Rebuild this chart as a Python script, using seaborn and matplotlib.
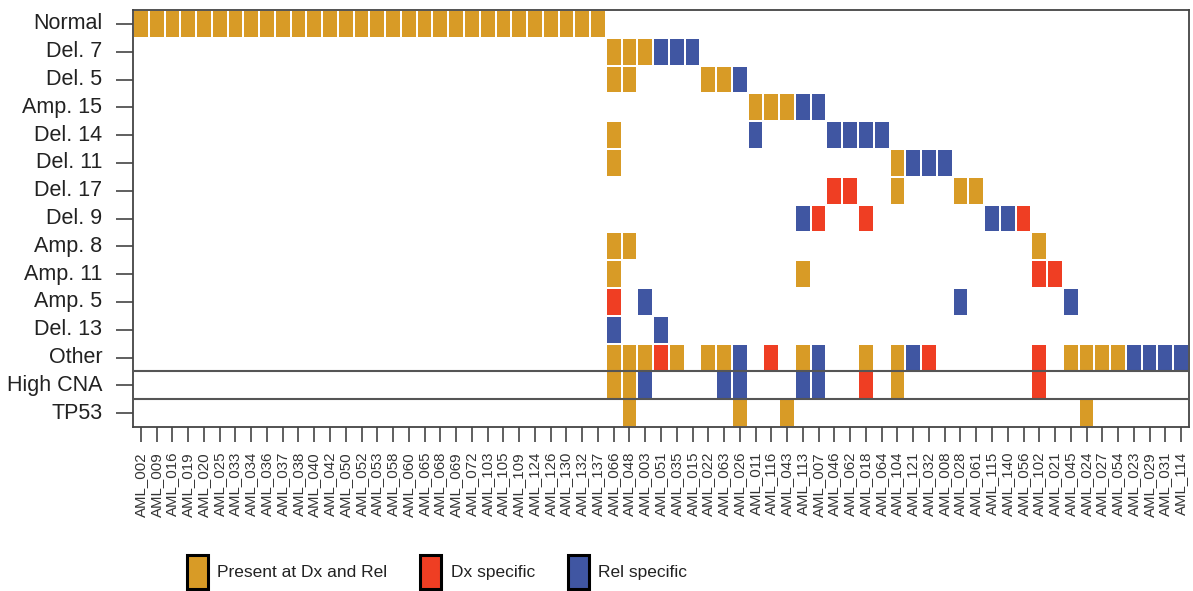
import numpy as np
import pandas as pd
import matplotlib
matplotlib.use("Agg")
import matplotlib.pyplot as plt
from matplotlib.colors import ListedColormap
from matplotlib.patches import Patch
import seaborn as sns

# Samples in plotting order
samples = [
    "AML_002", "AML_009", "AML_016", "AML_019", "AML_020", "AML_025", "AML_033",
    "AML_034", "AML_036", "AML_037", "AML_038", "AML_040", "AML_042", "AML_050",
    "AML_052", "AML_053", "AML_058", "AML_060", "AML_065", "AML_068", "AML_069",
    "AML_072", "AML_103", "AML_105", "AML_109", "AML_124", "AML_126", "AML_130",
    "AML_132", "AML_137", "AML_066", "AML_048", "AML_003", "AML_051", "AML_035",
    "AML_015", "AML_022", "AML_063", "AML_026", "AML_011", "AML_116", "AML_043",
    "AML_113", "AML_007", "AML_046", "AML_062", "AML_018", "AML_064", "AML_104",
    "AML_121", "AML_032", "AML_008", "AML_028", "AML_061", "AML_115", "AML_140",
    "AML_056", "AML_102", "AML_021", "AML_045", "AML_024", "AML_027", "AML_054",
    "AML_023", "AML_029", "AML_031", "AML_114",
]

# Alterations (rows, top to bottom)
alterations = [
    "Normal", "Del. 7", "Del. 5", "Amp. 15", "Del. 14", "Del. 11", "Del. 17",
    "Del. 9", "Amp. 8", "Amp. 11", "Amp. 5", "Del. 13", "Other", "High CNA", "TP53",
]

# Alterations present at both diagnosis and relapse
present_both = {
    "Normal": samples[:30],
    "Del. 7": ["AML_066", "AML_048", "AML_003"],
    "Del. 5": ["AML_066", "AML_048", "AML_022", "AML_063"],
    "Amp. 15": ["AML_011", "AML_116", "AML_043"],
    "Del. 14": ["AML_066"],
    "Del. 11": ["AML_066", "AML_104"],
    "Del. 17": ["AML_104", "AML_028", "AML_061"],
    "Amp. 8": ["AML_066", "AML_048", "AML_102"],
    "Amp. 11": ["AML_066", "AML_113"],
    "Other": ["AML_066", "AML_048", "AML_003", "AML_035", "AML_022", "AML_063",
              "AML_113", "AML_018", "AML_104", "AML_045", "AML_024", "AML_027",
              "AML_054"],
    "High CNA": ["AML_066", "AML_048", "AML_104"],
    "TP53": ["AML_048", "AML_026", "AML_043", "AML_024"],
}

# Alterations seen only at diagnosis
dx_specific = {
    "Del. 17": ["AML_046", "AML_062"],
    "Del. 9": ["AML_007", "AML_018", "AML_056"],
    "Amp. 11": ["AML_102", "AML_021"],
    "Amp. 5": ["AML_066"],
    "Other": ["AML_051", "AML_116", "AML_032", "AML_102"],
    "High CNA": ["AML_018", "AML_102"],
}

# Alterations seen only at relapse
rel_specific = {
    "Del. 7": ["AML_051", "AML_035", "AML_015"],
    "Del. 5": ["AML_026"],
    "Amp. 15": ["AML_113", "AML_007"],
    "Del. 14": ["AML_011", "AML_046", "AML_062", "AML_018", "AML_064"],
    "Del. 11": ["AML_121", "AML_032", "AML_008"],
    "Del. 9": ["AML_113", "AML_115", "AML_140"],
    "Amp. 5": ["AML_003", "AML_028", "AML_045"],
    "Del. 13": ["AML_066", "AML_051"],
    "Other": ["AML_026", "AML_007", "AML_121", "AML_023", "AML_029", "AML_031",
              "AML_114"],
    "High CNA": ["AML_003", "AML_063", "AML_026", "AML_113", "AML_007"],
}

legend_labels = ["Present at Dx and Rel", "Dx specific", "Rel specific"]

GOLD, RED, BLUE = "#D89B26", "#EF3E23", "#4056A2"

# Build the status matrix: 0 = none, 1 = both, 2 = Dx only, 3 = Rel only
status = pd.DataFrame(0, index=alterations, columns=samples)
for code, table in ((1, present_both), (2, dx_specific), (3, rel_specific)):
    for alt, ids in table.items():
        status.loc[alt, ids] = code

sns.set_theme(style="white")
plt.rcParams["font.family"] = ["Liberation Sans", "DejaVu Sans"]
plt.rcParams["text.color"] = "#222222"

fig = plt.figure(figsize=(11.93, 5.91), dpi=100)
ax = fig.add_axes([133 / 1193, 1 - 427 / 591, (1189 - 133) / 1193, (427 - 10) / 591])

cmap = ListedColormap(["white", GOLD, RED, BLUE])
sns.heatmap(status, cmap=cmap, vmin=-0.5, vmax=3.5, cbar=False,
            linewidths=1.4, linecolor="white", ax=ax)

# Separators for the High CNA and TP53 rows
for y in (13, 14):
    ax.axhline(y, color="#555555", lw=1.5, zorder=5)

for side in ("top", "bottom", "left", "right"):
    ax.spines[side].set_visible(True)
    ax.spines[side].set_color("#444444")
    ax.spines[side].set_linewidth(1.3)

ax.set_xlabel("")
ax.set_ylabel("")
ax.set_xticks(np.arange(len(samples)) + 0.5)
ax.set_xticklabels(samples, rotation=90, fontsize=10.8, color="#333333")
ax.set_yticks(np.arange(len(alterations)) + 0.5)
ax.set_yticklabels(alterations, rotation=0, fontsize=15.5, color="#222222")
ax.tick_params(axis="x", bottom=True, length=11, width=1.2, color="#444444", pad=7)
ax.tick_params(axis="y", left=True, length=12, width=1.2, color="#444444", pad=10)

handles = [Patch(facecolor=c, edgecolor="black", linewidth=2.2)
           for c in (GOLD, RED, BLUE)]
fig.legend(handles, legend_labels, loc="center", bbox_to_anchor=(437 / 1193, 1 - 572 / 591),
           ncol=3, frameon=False, fontsize=12.5, handlelength=1.2, handleheight=2.7,
           handletextpad=0.55, columnspacing=1.9)

fig.savefig("out.png", dpi=100, facecolor="white")
